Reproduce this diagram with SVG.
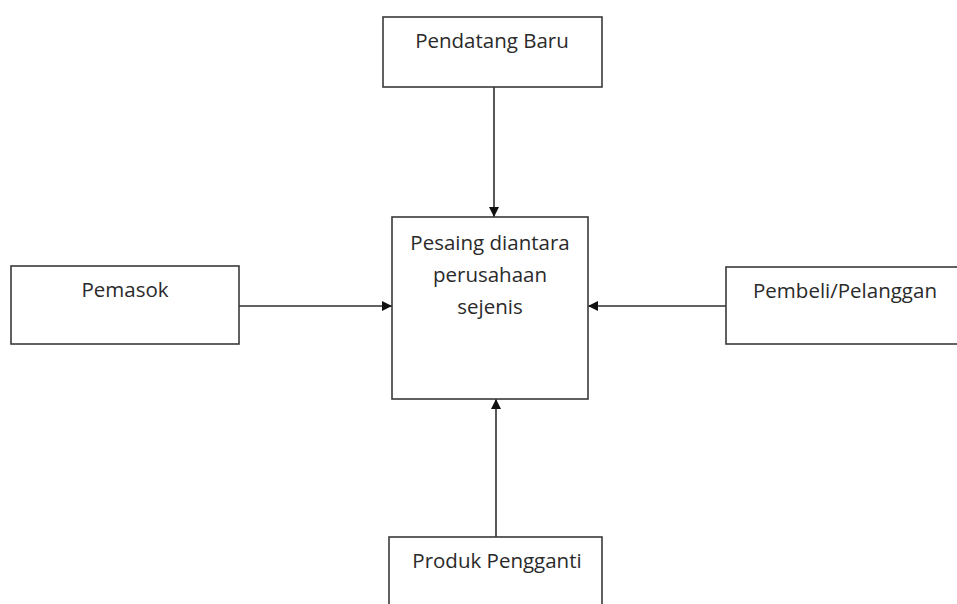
<svg xmlns="http://www.w3.org/2000/svg" width="957" height="604" viewBox="0 0 957 604">
<style>
.box{fill:#fff;stroke:#3a3a3a;stroke-width:1.6}
.lbl{font-family:"Open Sans","Liberation Sans",sans-serif;font-size:20.5px;fill:#2a2a2a;text-anchor:middle}
.con{stroke:#2e2e2e;stroke-width:1.6;fill:none}
</style>
<defs>
<marker id="ah" viewBox="0 0 10 10" refX="10" refY="5" markerWidth="10" markerHeight="10" markerUnits="userSpaceOnUse" orient="auto">
<path d="M0,0 L10,5 L0,10 Z" fill="#111"/>
</marker>
</defs>
<rect width="957" height="604" fill="#fff"/>
<g id="connectors">
<line class="con" x1="494" y1="87" x2="494" y2="217" marker-end="url(#ah)"/>
<line class="con" x1="239" y1="306" x2="392" y2="306" marker-end="url(#ah)"/>
<line class="con" x1="726" y1="306" x2="588" y2="306" marker-end="url(#ah)"/>
<line class="con" x1="496" y1="537" x2="496" y2="399" marker-end="url(#ah)"/>
</g>
<g id="pendatang">
<rect class="box" x="383" y="17" width="219" height="70"/>
<text class="lbl" x="492" y="48">Pendatang Baru</text>
</g>
<g id="pesaing">
<rect class="box" x="392" y="217" width="196" height="182"/>
<text class="lbl" x="490" y="250">Pesaing diantara</text>
<text class="lbl" x="490" y="282">perusahaan</text>
<text class="lbl" x="490" y="314">sejenis</text>
</g>
<g id="pemasok">
<rect class="box" x="11" y="266" width="228" height="78"/>
<text class="lbl" x="125" y="297">Pemasok</text>
</g>
<g id="pembeli">
<rect class="box" x="726" y="267" width="240" height="77"/>
<text class="lbl" x="845" y="298">Pembeli/Pelanggan</text>
</g>
<g id="produk">
<rect class="box" x="389" y="537" width="213" height="80"/>
<text class="lbl" x="497" y="568">Produk Pengganti</text>
</g>
</svg>
